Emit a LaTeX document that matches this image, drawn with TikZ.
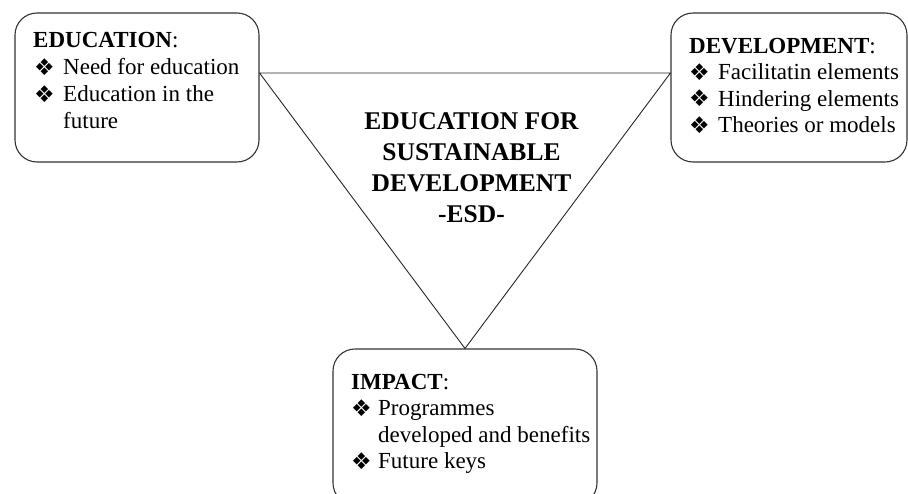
\documentclass[tikz,border=0pt]{standalone}
\usepackage{fontspec}
\setmainfont{Liberation Serif}
\newfontfamily\symfont{DejaVu Sans}
\usetikzlibrary{calc}
\newcommand{\dia}{{\symfont\fontsize{23}{23}\selectfont ❖}}
\begin{document}
\begin{tikzpicture}[x=1pt,y=-1pt,
  panel/.style={draw=black!80, line width=1.1pt, rounded corners=22pt,
    inner sep=0pt, fill=white},
  edge/.style={draw=black!85, line width=0.9pt},
  txt/.style={anchor=base west, inner sep=0pt, font=\fontsize{23}{27}\selectfont},
  bul/.style={anchor=base west, inner sep=0pt},
  ttl/.style={anchor=base, inner sep=0pt, font=\fontsize{25.5}{31}\selectfont\bfseries}]
\useasboundingbox (0,0) rectangle (908,493);
\clip (0,0) rectangle (908,493);

% the three theme panels
\node[panel, minimum width=244pt, minimum height=149pt] (edu) at (137,87.5) {};
\node[panel, minimum width=236pt, minimum height=149pt] (dev) at (789,87.5) {};
\node[panel, minimum width=264pt, minimum height=156pt] (imp) at (465,427) {};

% triangle joining the panels
\coordinate (tl) at ($(edu.east)+(0,-14.5)$);
\coordinate (tr) at ($(dev.west)+(0,-14.5)$);
\draw[edge] (tl) -- (tr) -- (imp.north) -- cycle;

% central title
\node[ttl] (t1) at (471.5,129) {EDUCATION FOR};
\node[ttl] (t2) at (471.5,160) {SUSTAINABLE};
\node[ttl] (t3) at (471.5,191) {DEVELOPMENT};
\node[ttl] (t4) at (471.5,222) {-ESD-};

% education panel
\node[txt] (eduH) at (33,47) {\textbf{EDUCATION}:};
\node[bul] (eduB1) at (34,75) {\dia};
\node[txt] (eduI1) at (63,74.5) {Need for education};
\node[bul] (eduB2) at (34,102) {\dia};
\node[txt] (eduI2) at (63,101.5) {Education in the};
\node[txt] (eduI3) at (63,128) {future};

% development panel
\node[txt] (devH) at (689,53.5) {\textbf{DEVELOPMENT}:};
\node[bul] (devB1) at (689,80) {\dia};
\node[txt] (devI1) at (718,79.5) {Facilitatin elements};
\node[bul] (devB2) at (689,106.5) {\dia};
\node[txt] (devI2) at (718,106) {Hindering elements};
\node[bul] (devB3) at (689,133) {\dia};
\node[txt] (devI3) at (718,132.5) {Theories or models};

% impact panel
\node[txt] (impH) at (351,389) {\textbf{IMPACT}:};
\node[bul] (impB1) at (351,416) {\dia};
\node[txt] (impI1) at (378,415.5) {Programmes};
\node[txt] (impI2) at (378,442) {developed and benefits};
\node[bul] (impB2) at (351,469) {\dia};
\node[txt] (impI3) at (378,468.5) {Future keys};
\end{tikzpicture}
\end{document}
